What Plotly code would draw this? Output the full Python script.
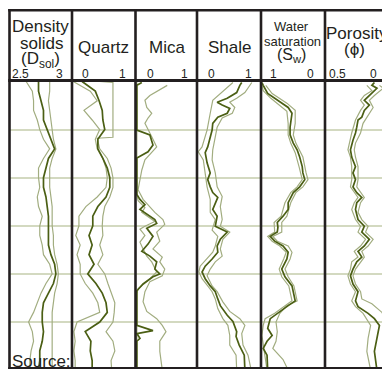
import plotly.graph_objects as go

W, H = 382, 369

# ---------------- data (depth in grid units, 1 unit = one horizontal grid line) ----------------
GRID_DEPTH = [0.0, 0.2, 0.4, 0.6, 0.8, 1.0, 1.2, 1.4, 1.6, 1.8, 2.0, 2.2, 2.4, 2.6, 2.8, 3.0,
              3.2, 3.4, 3.6, 3.8, 4.0, 4.2, 4.4, 4.6, 4.8, 5.0, 5.2, 5.4, 5.6, 5.8, 6.0]

# Density solids (g/cc)
DSOL_MID = [2.73, 2.73, 2.75, 2.77, 2.77, 2.80, 2.83, 2.86, 2.81, 2.79, 2.77, 2.77, 2.79, 2.80, 2.81, 2.81,
            2.81, 2.81, 2.83, 2.86, 2.87, 2.85, 2.81, 2.77, 2.76, 2.76, 2.77, 2.76, 2.74, 2.74, 2.73]
DSOL_LO = [2.63, 2.68, 2.69, 2.69, 2.72, 2.74, 2.77, 2.82, 2.77, 2.73, 2.73, 2.74, 2.72, 2.73, 2.76, 2.74,
           2.74, 2.76, 2.77, 2.82, 2.84, 2.79, 2.75, 2.72, 2.69, 2.65, 2.68, 2.69, 2.67, 2.66, 2.66]
DSOL_HI = [2.82, 2.82, 2.81, 2.82, 2.83, 2.84, 2.85, 2.87, 2.84, 2.82, 2.82, 2.82, 2.83, 2.84, 2.84, 2.84,
           2.85, 2.85, 2.86, 2.88, 2.89, 2.88, 2.86, 2.85, 2.84, 2.84, 2.84, 2.84, 2.84, 2.84, 2.84]

# Quartz fraction
QTZ_MID = [0.16, 0.37, 0.43, 0.48, 0.49, 0.52, 0.41, 0.41, 0.49, 0.56, 0.60, 0.60, 0.54, 0.41, 0.33, 0.33,
           0.27, 0.32, 0.27, 0.35, 0.25, 0.38, 0.48, 0.54, 0.56, 0.44, 0.21, 0.30, 0.29, 0.32, 0.32]
QTZ_LO = [0.02, 0.29, 0.40, 0.19, 0.32, 0.44, 0.37, 0.40, 0.49, 0.54, 0.56, 0.54, 0.40, 0.22, 0.11, 0.11,
          0.06, 0.13, 0.08, 0.13, 0.13, 0.21, 0.33, 0.41, 0.44, 0.08, 0.03, 0.05, 0.03, 0.05, 0.05]
QTZ_HI_DEPTH = [0.0, 0.02, 1.16, 1.18, 1.4, 1.6, 1.8, 2.0, 2.2, 2.4, 2.6, 2.8, 3.0, 3.2, 3.4, 3.6, 3.8,
                4.0, 4.2, 4.4, 4.6, 4.8, 5.0, 5.2, 5.4, 5.6, 5.8, 6.0]
QTZ_HI = [0.44, 0.65, 0.65, 0.40, 0.44, 0.56, 0.62, 0.65, 0.65, 0.60, 0.52, 0.49, 0.48, 0.49, 0.44, 0.49,
          0.41, 0.52, 0.57, 0.62, 0.68, 0.67, 0.65, 0.54, 0.65, 0.68, 0.62, 0.63]

# Mica fraction
MICA_MID_DEPTH = [0.02, 0.08, 1.01, 1.11, 1.32, 1.46, 1.59, 2.35, 2.45, 2.56, 2.66, 2.87, 2.95, 3.05, 3.22,
                  3.38, 3.53, 3.63, 3.75, 3.90, 4.00, 4.06, 4.21, 4.35, 5.07, 5.18, 5.24, 5.34, 5.40, 6.0]
MICA_MID = [0.11, 0.03, 0.03, 0.24, 0.29, 0.21, 0.03, 0.03, 0.08, 0.16, 0.08, 0.32, 0.35, 0.19, 0.29,
            0.21, 0.11, 0.24, 0.35, 0.32, 0.40, 0.29, 0.13, 0.03, 0.03, 0.29, 0.03, 0.08, 0.03, 0.03]
MICA_HI_DEPTH = [0.08, 0.14, 0.29, 0.39, 0.54, 0.66, 0.76, 0.87, 1.01, 1.15, 1.36, 1.48, 1.63, 1.84, 2.04,
                 2.25, 2.45, 2.60, 2.72, 2.87, 2.97, 3.13, 3.32, 3.48, 3.65, 3.75, 3.90, 4.04, 4.16, 4.37,
                 4.58, 4.78, 4.93, 5.07, 5.20, 5.40, 5.61, 6.0]
MICA_HI = [0.52, 0.44, 0.24, 0.16, 0.19, 0.27, 0.21, 0.16, 0.21, 0.27, 0.35, 0.27, 0.16, 0.11, 0.08,
           0.05, 0.13, 0.24, 0.32, 0.45, 0.48, 0.35, 0.40, 0.29, 0.44, 0.40, 0.48, 0.44, 0.24, 0.16,
           0.13, 0.19, 0.35, 0.44, 0.50, 0.40, 0.40, 0.44]
MICA_LO_DEPTH = [0.0, 2.35, 2.48, 2.62, 2.72, 2.91, 3.01, 3.07, 3.20, 3.34, 3.48, 3.63, 3.75, 3.96, 4.10,
                 4.31, 4.41, 6.0]
MICA_LO = [0.03, 0.03, 0.05, 0.16, 0.11, 0.32, 0.16, 0.08, 0.16, 0.08, 0.13, 0.19, 0.27, 0.35, 0.24,
           0.05, 0.03, 0.03]

# Shale fraction
SHALE_MID_DEPTH = [0.02, 0.08, 0.23, 0.35, 0.43, 0.49, 0.56, 0.66, 0.74, 0.87, 1.01, 1.15, 1.36, 1.48, 1.69,
                   1.90, 2.04, 2.19, 2.31, 2.41, 2.52, 2.66, 2.80, 3.01, 3.13, 3.28, 3.42, 3.55, 3.69, 3.84,
                   3.96, 4.10, 4.25, 4.37, 4.52, 4.66, 4.86, 4.99, 5.20, 5.30, 5.48, 5.69, 6.0]
SHALE_MID = [0.71, 0.68, 0.63, 0.48, 0.32, 0.40, 0.52, 0.48, 0.33, 0.25, 0.24, 0.21, 0.17, 0.13, 0.16,
             0.21, 0.17, 0.21, 0.25, 0.33, 0.29, 0.25, 0.32, 0.29, 0.48, 0.37, 0.32, 0.33, 0.24, 0.13,
             0.08, 0.13, 0.21, 0.29, 0.33, 0.37, 0.48, 0.57, 0.63, 0.62, 0.67, 0.75, 0.76]
SHALE_LO_DEPTH = [0.02, 0.08, 0.39, 0.66, 1.01, 1.36, 1.46, 1.63, 1.90, 2.19, 2.45, 2.72, 2.87, 3.09, 3.22,
                  3.42, 3.55, 3.69, 3.84, 3.96, 4.10, 4.25, 4.37, 4.52, 4.72, 4.93, 5.07, 5.28, 5.48, 5.69, 6.0]
SHALE_LO = [0.57, 0.52, 0.25, 0.21, 0.16, 0.08, 0.02, 0.10, 0.13, 0.16, 0.21, 0.21, 0.29, 0.24, 0.33,
            0.29, 0.25, 0.16, 0.05, 0.03, 0.08, 0.17, 0.24, 0.29, 0.33, 0.41, 0.49, 0.52, 0.52, 0.62, 0.63]
SHALE_HI_DEPTH = [0.02, 0.08, 0.23, 0.35, 0.43, 0.54, 0.66, 0.76, 0.95, 1.15, 1.42, 1.63, 1.90, 2.19, 2.39,
                  2.60, 2.87, 3.01, 3.13, 3.28, 3.48, 3.63, 3.75, 3.90, 4.04, 4.25, 4.37, 4.58, 4.78, 4.93,
                  5.07, 5.24, 5.48, 5.69, 6.0]
SHALE_HI = [0.87, 0.84, 0.76, 0.63, 0.52, 0.60, 0.56, 0.40, 0.32, 0.29, 0.25, 0.24, 0.29, 0.32, 0.40,
            0.37, 0.40, 0.37, 0.52, 0.41, 0.37, 0.40, 0.29, 0.21, 0.16, 0.24, 0.32, 0.41, 0.52, 0.68,
            0.76, 0.71, 0.73, 0.81, 0.86]

# Water saturation
SW_MID_DEPTH = [0.02, 0.08, 0.25, 0.35, 0.45, 0.54, 0.66, 0.95, 1.11, 1.28, 1.42, 1.57, 1.77, 1.90, 2.04,
                2.19, 2.31, 2.52, 2.66, 2.80, 2.93, 3.03, 3.13, 3.22, 3.32, 3.42, 3.55, 3.69, 3.90, 4.06,
                4.25, 4.37, 4.56, 4.66, 4.76, 4.86, 4.93, 5.13, 5.28, 5.40, 5.55, 5.69, 6.0]
SW_MID = [0.97, 0.95, 0.88, 0.77, 0.66, 0.56, 0.50, 0.53, 0.53, 0.48, 0.42, 0.38, 0.34, 0.33, 0.30,
          0.38, 0.48, 0.56, 0.56, 0.64, 0.73, 0.72, 0.73, 0.84, 0.77, 0.64, 0.56, 0.58, 0.66, 0.61,
          0.50, 0.48, 0.45, 0.56, 0.66, 0.77, 0.84, 0.88, 0.81, 0.89, 0.95, 0.89, 0.88]
SW_HI_DEPTH = [0.08, 0.25, 0.45, 0.60, 0.87, 1.11, 1.28, 1.57, 1.90, 2.04, 2.19, 2.31, 2.52, 2.80, 2.93,
               3.13, 3.22, 3.32, 3.42, 3.55, 3.69, 3.90, 4.06, 4.25, 4.56, 4.66, 4.82, 5.00, 5.20, 5.40,
               5.55, 5.78, 6.0]
SW_HI = [0.91, 0.81, 0.58, 0.45, 0.45, 0.48, 0.44, 0.33, 0.28, 0.25, 0.33, 0.44, 0.52, 0.58, 0.66,
         0.66, 0.80, 0.73, 0.56, 0.50, 0.53, 0.61, 0.56, 0.47, 0.42, 0.58, 0.69, 0.75, 0.73, 0.75,
         0.80, 0.64, 0.56]
SW_LO_DEPTH = [0.02, 0.19, 0.35, 0.49, 0.62, 0.87, 1.11, 1.28, 1.48, 1.77, 2.04, 2.19, 2.31, 2.52, 2.80,
               2.93, 3.13, 3.22, 3.32, 3.42, 3.55, 3.69, 3.90, 4.06, 4.25, 4.56, 4.66, 4.82, 4.93, 5.07,
               5.28, 5.48, 5.69, 6.0]
SW_LO = [0.98, 0.95, 0.83, 0.70, 0.58, 0.56, 0.56, 0.52, 0.45, 0.39, 0.34, 0.42, 0.52, 0.61, 0.67,
         0.78, 0.77, 0.88, 0.81, 0.69, 0.59, 0.63, 0.70, 0.66, 0.55, 0.50, 0.61, 0.77, 0.92, 0.95,
         0.97, 0.95, 0.92, 0.89]

# Porosity
PHI_MID_DEPTH = [0.02, 0.08, 0.14, 0.29, 0.39, 0.49, 0.60, 0.74, 0.80, 0.95, 1.07, 1.22, 1.42, 1.57, 1.77,
                 1.90, 2.04, 2.19, 2.31, 2.41, 2.52, 2.66, 2.87, 3.01, 3.13, 3.28, 3.42, 3.53, 3.65, 3.75,
                 3.90, 4.04, 4.21, 4.37, 4.56, 4.68, 4.82, 4.93, 5.07, 5.34, 5.61, 6.0]
PHI_MID = [0.10, 0.12, 0.08, 0.14, 0.18, 0.14, 0.18, 0.20, 0.23, 0.24, 0.25, 0.27, 0.29, 0.28, 0.25,
           0.27, 0.25, 0.27, 0.24, 0.20, 0.24, 0.25, 0.23, 0.18, 0.20, 0.14, 0.18, 0.23, 0.20, 0.24,
           0.27, 0.29, 0.27, 0.23, 0.25, 0.23, 0.15, 0.10, 0.06, 0.08, 0.10, 0.08]
PHI_LO_DEPTH = [0.08, 0.19, 0.29, 0.39, 0.49, 0.60, 0.80, 1.07, 1.42, 1.57, 1.77, 2.04, 2.19, 2.31, 2.41,
                2.52, 2.66, 2.87, 3.01, 3.13, 3.28, 3.42, 3.53, 3.65, 3.75, 3.90, 4.04, 4.21, 4.37, 4.56,
                4.68, 4.82, 4.99, 5.07, 5.34, 5.61, 6.0]
PHI_LO = [0.16, 0.12, 0.18, 0.21, 0.18, 0.21, 0.25, 0.28, 0.31, 0.29, 0.28, 0.28, 0.29, 0.26, 0.23,
          0.26, 0.28, 0.25, 0.21, 0.23, 0.17, 0.21, 0.26, 0.23, 0.28, 0.29, 0.31, 0.29, 0.25, 0.28,
          0.25, 0.19, 0.15, 0.13, 0.15, 0.16, 0.13]
PHI_HI_DEPTH = [0.08, 0.14, 0.29, 0.39, 0.54, 0.70, 0.87, 1.07, 1.28, 1.42, 1.57, 1.77, 2.04, 2.19, 2.41,
                2.52, 2.72, 2.87, 3.01, 3.13, 3.28, 3.42, 3.53, 3.65, 3.75, 3.90, 4.04, 4.21, 4.37, 4.52,
                4.62, 4.80, 4.99, 6.0]
PHI_HI = [0.06, 0.03, 0.10, 0.14, 0.11, 0.15, 0.19, 0.21, 0.25, 0.26, 0.25, 0.23, 0.23, 0.24, 0.18,
          0.21, 0.23, 0.20, 0.15, 0.17, 0.11, 0.15, 0.20, 0.18, 0.21, 0.25, 0.27, 0.25, 0.21, 0.20,
          0.12, 0.04, 0.0, 0.0]

# Track titles and tick labels
TITLE_LINES = [
    [("Density", 17, 40.8, 26.7), ("solids", 17, 41.7, 43.5), ("(D<sub>sol</sub>)", 17, 40.7, 59.7)],
    [("Quartz", 17, 103.7, 47.5)],
    [("Mica", 17, 166.5, 47.5)],
    [("Shale", 17, 229.3, 47.0)],
    [("Water", 13, 291.8, 26.7), ("saturation", 13, 292.0, 41.0), ("(S<sub>w</sub>)", 16, 291.0, 56.0)],
    [("Porosity", 17, 356.5, 33.8), ("(ϕ)", 17, 354.0, 50.0)],
]
TICK_LABELS = [("2.5", 20.0), ("3", 59.0), ("0", 85.0), ("1", 122.0), ("0", 150.5), ("1", 184.0),
               ("0", 211.5), ("1", 248.0), ("1", 273.5), ("0", 310.5), ("0.5", 337.0), ("0", 373.5)]

# ---------------- styling / layout ----------------
DARK = "#4b5f14"
LIGHT = "#a2ad80"
INK = "#231f20"
GRIDC = "#d3d9c0"
FONT = "Liberation Sans, Arial, sans-serif"


def px(x):
    return x / W


def py(y):
    return 1 - y / H


# track pixel spans (used for the axes domains) and value ranges
TRACK_PX = [(10, 72), (72, 135), (135, 197), (197, 260), (260, 324), (324, 382)]
TRACK_RANGE = [[2.5, 3.0], [0, 1], [0, 1], [0, 1], [1, 0], [0.5, 0.5 * 5 / 63]]
DATA_TOP, DATA_BOT = 80.5, 369.0
DEPTH_RANGE = [5.977, -0.021]

curves = [
    [(GRID_DEPTH, DSOL_LO), (GRID_DEPTH, DSOL_HI), (GRID_DEPTH, DSOL_MID)],
    [(GRID_DEPTH, QTZ_LO), (QTZ_HI_DEPTH, QTZ_HI), (GRID_DEPTH, QTZ_MID)],
    [(MICA_LO_DEPTH, MICA_LO), (MICA_HI_DEPTH, MICA_HI), (MICA_MID_DEPTH, MICA_MID)],
    [(SHALE_LO_DEPTH, SHALE_LO), (SHALE_HI_DEPTH, SHALE_HI), (SHALE_MID_DEPTH, SHALE_MID)],
    [(SW_LO_DEPTH, SW_LO), (SW_HI_DEPTH, SW_HI), (SW_MID_DEPTH, SW_MID)],
    [(PHI_LO_DEPTH, PHI_LO), (PHI_HI_DEPTH, PHI_HI), (PHI_MID_DEPTH, PHI_MID)],
]

fig = go.Figure()
layout = dict(
    width=W, height=H, autosize=False,
    margin=dict(l=0, r=0, t=0, b=0, pad=0),
    paper_bgcolor="white", plot_bgcolor="white",
    showlegend=False,
    font=dict(family=FONT, color=INK),
)

for i, tr in enumerate(curves):
    n = "" if i == 0 else str(i + 1)
    xa, ya = "x" + n, "y" + n
    for j, (d, v) in enumerate(tr):
        dark = j == 2
        fig.add_trace(go.Scatter(
            x=v, y=d, mode="lines", xaxis=xa, yaxis=ya,
            line=dict(color=DARK if dark else LIGHT, width=1.7 if dark else 1.2),
            hoverinfo="skip", showlegend=False))
    x0, x1 = TRACK_PX[i]
    layout["xaxis" + n] = dict(domain=[px(x0), px(x1)], range=TRACK_RANGE[i], anchor=ya,
                               showgrid=False, zeroline=False, showline=False,
                               showticklabels=False, ticks="", fixedrange=True)
    layout["yaxis" + n] = dict(domain=[py(DATA_BOT), py(DATA_TOP)], range=DEPTH_RANGE, anchor=xa,
                               tickvals=[1, 2, 3, 4, 5], showgrid=True, gridcolor=GRIDC,
                               gridwidth=1.5, zeroline=False, showline=False,
                               showticklabels=False, ticks="", fixedrange=True)

fig.update_layout(**layout)

# frame: outer border, header separator and track dividers
shapes = []
lw = 2.6
shapes.append(dict(type="line", xref="paper", yref="paper", x0=px(8.2), x1=px(382), y0=py(10.2), y1=py(10.2),
                   line=dict(color=INK, width=lw)))
shapes.append(dict(type="line", xref="paper", yref="paper", x0=px(8.2), x1=px(382), y0=py(80.5), y1=py(80.5),
                   line=dict(color=INK, width=2.8)))
shapes.append(dict(type="line", xref="paper", yref="paper", x0=px(8.2), x1=px(382), y0=py(368.2), y1=py(368.2),
                   line=dict(color=INK, width=lw)))
for xd in [9.5, 72, 135.5, 197, 261, 325]:
    shapes.append(dict(type="line", xref="paper", yref="paper", x0=px(xd), x1=px(xd), y0=py(9), y1=py(369),
                       line=dict(color=INK, width=lw)))
fig.update_layout(shapes=[dict(s, layer="above") for s in shapes])

ann = []
for lines in TITLE_LINES:
    for text, size, cx, cy in lines:
        ann.append(dict(text=text, x=px(cx), y=py(cy), xref="paper", yref="paper",
                        xanchor="center", yanchor="middle", showarrow=False,
                        font=dict(family=FONT, size=size, color=INK)))
for text, cx in TICK_LABELS:
    ann.append(dict(text=text, x=px(cx), y=py(74.3), xref="paper", yref="paper",
                    xanchor="center", yanchor="middle", showarrow=False,
                    font=dict(family=FONT, size=12, color=INK)))
ann.append(dict(text="Source:", x=px(9.5), y=py(361), xref="paper", yref="paper",
                xanchor="left", yanchor="middle", showarrow=False,
                font=dict(family="Liberation Sans Narrow, " + FONT, size=17, color=INK)))
fig.update_layout(annotations=ann)

fig.write_html("out.html", config={"displayModeBar": False},
               post_script="document.body.style.margin='0';document.body.style.padding='0';"
                           "document.body.style.overflow='hidden';")
